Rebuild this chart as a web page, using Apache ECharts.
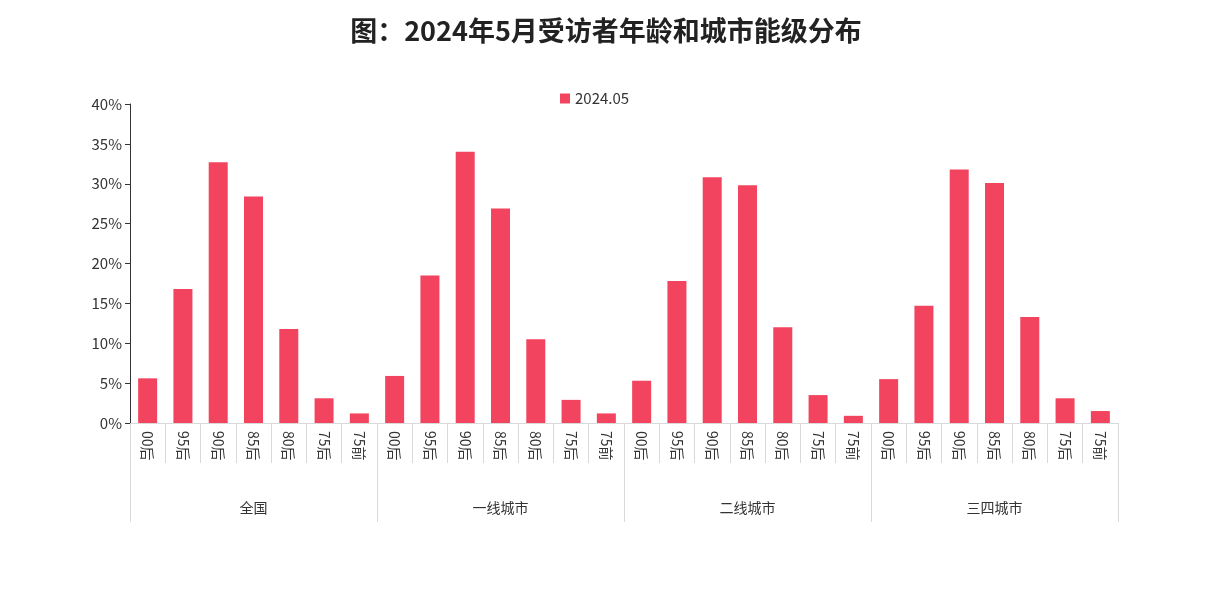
<!DOCTYPE html>
<html>
<head>
<meta charset="UTF-8" />
<title>受访者年龄和城市能级分布</title>
<script src="https://cdn.jsdelivr.net/npm/echarts@6/dist/echarts.min.js"></script>
<style>
    body { margin: 0; background: #fff; }
    #main { width: 1212px; height: 592px; }
</style>
</head>
<body>
<div id="main"></div>
<script>
// data
var ages = ['00后', '95后', '90后', '85后', '80后', '75后', '75前'];
var cities = ['全国', '一线城市', '二线城市', '三四城市'];
var quanguo = [5.6, 16.8, 32.7, 28.4, 11.8, 3.1, 1.2];
var yixian = [5.9, 18.5, 34.0, 26.9, 10.5, 2.9, 1.2];
var erxian = [5.3, 17.8, 30.8, 29.8, 12.0, 3.5, 0.9];
var sansi = [5.5, 14.7, 31.8, 30.1, 13.3, 3.1, 1.5];

var cats = [], vals = [];
[quanguo, yixian, erxian, sansi].forEach(function (arr) {
    for (var i = 0; i < ages.length; i++) {
        cats.push(ages[i]);
        vals.push(arr[i]);
    }
});

var font = '"Noto Sans CJK SC", "Noto Sans", sans-serif';
var myChart = echarts.init(document.getElementById('main'));
myChart.setOption({
    textStyle: { fontFamily: font },
    title: {
        text: '图：2024年5月受访者年龄和城市能级分布',
        left: 'center',
        top: 12,
        textStyle: { fontSize: 27, fontWeight: 'bold', color: '#222', fontFamily: font }
    },
    legend: {
        data: ['2024.05'],
        top: 86,
        left: 555,
        itemWidth: 10,
        itemHeight: 10,
        icon: 'rect',
        textStyle: { fontSize: 15, color: '#333' }
    },
    grid: { left: 130, right: 94, top: 104, bottom: 169 },
    xAxis: [{
        type: 'category',
        data: cats,
        axisLine: { show: true, lineStyle: { color: '#d9d9d9' } },
        axisTick: { show: true, alignWithLabel: false, length: 40, lineStyle: { color: '#d9d9d9' } },
        axisLabel: { rotate: -90, color: '#333', fontSize: 14, margin: 8 }
    }, {
        type: 'category',
        data: cities,
        position: 'bottom',
        axisLine: { show: false },
        axisTick: { show: true, length: 99, lineStyle: { color: '#d9d9d9' } },
        axisLabel: { color: '#333', fontSize: 14, margin: 78 }
    }],
    yAxis: {
        type: 'value',
        min: 0,
        max: 40,
        interval: 5,
        axisLine: { show: true, lineStyle: { color: '#333' } },
        axisTick: { show: true, length: 5, lineStyle: { color: '#333' } },
        splitLine: { show: false },
        axisLabel: { formatter: '{value}%', color: '#333', fontSize: 15 }
    },
    series: [{
        name: '2024.05',
        type: 'bar',
        xAxisIndex: 0,
        data: vals,
        barWidth: 19,
        itemStyle: { color: '#F2445F' }
    }]
});
</script>
</body>
</html>
